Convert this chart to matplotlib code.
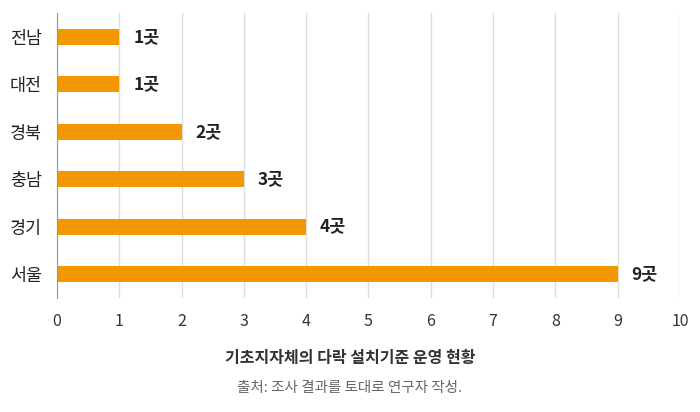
import matplotlib
matplotlib.use("Agg")
from matplotlib import pyplot as plt

# data
regions = ["서울", "경기", "충남", "경북", "대전", "전남"]
counts = [9, 4, 3, 2, 1, 1]
value_labels = ["9곳", "4곳", "3곳", "2곳", "1곳", "1곳"]
x_ticks = [0, 1, 2, 3, 4, 5, 6, 7, 8, 9, 10]

plt.rcParams['font.family'] = ['Noto Sans CJK KR', 'DejaVu Sans']

fig = plt.figure(figsize=(7, 4.12), dpi=100)
ax = fig.add_axes([0.0814, 0.277, 0.89, 0.691])

ypos = list(range(len(regions)))
ax.barh(ypos, counts, height=0.34, color="#F39800", zorder=3)

for y, v, lab in zip(ypos, counts, value_labels):
    ax.annotate(lab, (v, y), xytext=(10, 0), textcoords="offset points",
                va="center", ha="left", fontsize=12.5, fontweight="bold", color="#222222")

ax.set_xlim(0, 10)
ax.set_ylim(-0.5, len(regions) - 0.5)
ax.set_xticks(x_ticks)
ax.set_yticks(ypos)
ax.set_yticklabels(regions, fontsize=12.5, color="#222222")
ax.tick_params(axis="x", length=0, pad=11, labelsize=11.5, labelcolor="#333333")
ax.tick_params(axis="y", length=0, pad=11)
ax.grid(axis="x", color="#DDDDDD", linewidth=1, zorder=0)
for s in ["top", "right", "bottom"]:
    ax.spines[s].set_visible(False)
ax.spines["left"].set_color("#999999")
ax.spines["left"].set_zorder(4)

fig.text(0.5, 0.13, "기초지자체의 다락 설치기준 운영 현황", ha="center", va="center",
         fontsize=11.5, fontweight="bold", color="#333333")
fig.text(0.5, 0.058, "출처: 조사 결과를 토대로 연구자 작성.", ha="center", va="center",
         fontsize=10.5, color="#666666")

fig.savefig("out.png", dpi=100)
